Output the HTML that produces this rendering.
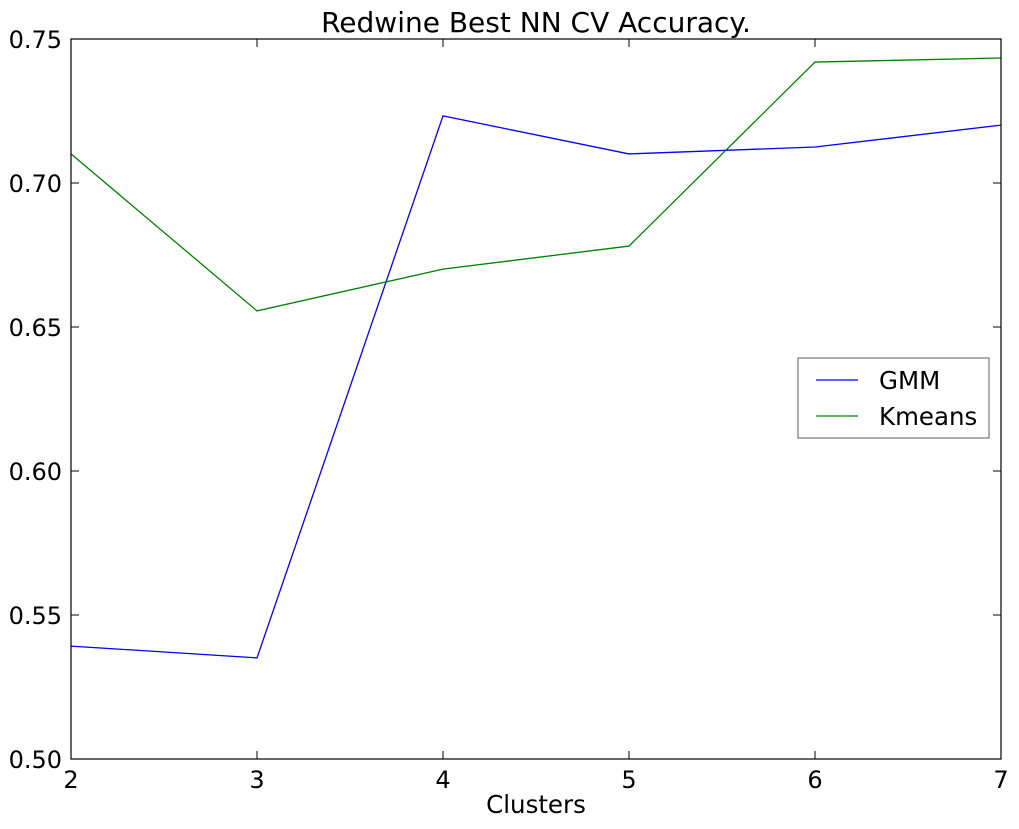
<!DOCTYPE html>
<html><head><meta charset="utf-8"><style>
body{margin:0;background:#fff;}
svg{display:block;font-family:"DejaVu Sans","Liberation Sans",sans-serif;}
</style></head><body>
<svg id="chart" width="1019" height="829" xmlns="http://www.w3.org/2000/svg"></svg>
<script>
const categories=[2,3,4,5,6,7];
const gmmValues=[0.5392,0.5351,0.7233,0.7101,0.7125,0.7201];
const kmeansValues=[0.7101,0.6556,0.6701,0.6781,0.7420,0.7434];
const yTicks=[0.50,0.55,0.60,0.65,0.70,0.75];
const yTickLabels=["0.50","0.55","0.60","0.65","0.70","0.75"];
const xTicks=[2,3,4,5,6,7];

const svg=document.getElementById('chart');
const NS='http://www.w3.org/2000/svg';
const L=71,R=1001,T=39,B=759;
const xs=v=>L+(v-2)/(7-2)*(R-L);
const ys=v=>B-(v-0.5)/(0.75-0.5)*(B-T);
function mk(tag,attrs,parent){const e=document.createElementNS(NS,tag);for(const k in attrs)e.setAttribute(k,attrs[k]);(parent||svg).appendChild(e);return e;}

const title=mk('text',{x:(L+R)/2,y:32,'text-anchor':'middle','font-size':28});
title.textContent='Redwine Best NN CV Accuracy.';



function series(vals,color,name){
  const p=mk('polyline',{points:categories.map((c,i)=>xs(c)+','+ys(vals[i])).join(' '),fill:'none',stroke:color,'stroke-width':1.3});
  
  
}
series(gmmValues,'#0000ff','gmm-line');
series(kmeansValues,'#008000','kmeans-line');

const frame=mk('rect',{x:L,y:T,width:R-L,height:B-T,fill:'none',stroke:'#000','stroke-width':1.2});



yTicks.forEach((v,i)=>{
  const y=ys(v);
  mk('line',{x1:L,x2:L+8,y1:y,y2:y,stroke:'#000'});
  mk('line',{x1:R-8,x2:R,y1:y,y2:y,stroke:'#000'});
  const t=mk('text',{x:L-9,y:y+9,'text-anchor':'end','font-size':24});
  t.textContent=yTickLabels[i];
  
  
});
xTicks.forEach(v=>{
  const x=xs(v);
  mk('line',{x1:x,x2:x,y1:B,y2:B-8,stroke:'#000'});
  mk('line',{x1:x,x2:x,y1:T,y2:T+8,stroke:'#000'});
  const t=mk('text',{x:x,y:B+29,'text-anchor':'middle','font-size':24});
  t.textContent=String(v);
  
  
});
const xt=mk('text',{x:(L+R)/2,y:813,'text-anchor':'middle','font-size':24.5});
xt.textContent='Clusters';



const lg=mk('g',{});


mk('rect',{x:798,y:358,width:191,height:80,fill:'#fff',stroke:'#777','stroke-width':1.2},lg);
[['GMM','#0000ff',380],['Kmeans','#008000',416]].forEach(([n,c,y])=>{
  mk('line',{x1:816,x2:858,y1:y,y2:y,stroke:c,'stroke-width':1.3},lg);
  const t=mk('text',{x:879,y:y+9,'font-size':24.5},lg);
  t.textContent=n;
  
  
});
</script>
</body></html>
